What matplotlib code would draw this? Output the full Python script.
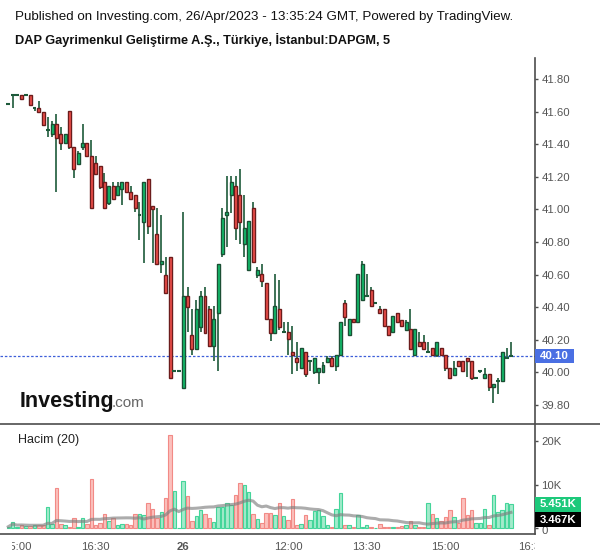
import numpy as np
import matplotlib.pyplot as plt
from matplotlib.patches import Rectangle
from matplotlib.transforms import Bbox, TransformedBbox

plt.rcParams['font.family'] = ['Liberation Sans', 'DejaVu Sans']

# 5 minute candles, DAPGM (open, high, low, close)
opens = [41.645, 41.70, 41.70, 41.70, 41.70, 41.70, 41.62, 41.62, 41.60, 41.49,
         41.46, 41.524, 41.46, 41.405, 41.604, 41.383, 41.28, 41.38, 41.407, 41.328,
         41.285, 41.266, 41.168, 41.04, 41.143, 41.086, 41.123, 41.168, 41.107, 41.088,
         40.966, 40.925, 41.187, 41.02, 40.85, 40.663, 40.60, 40.706, 40.006, 40.006,
         39.906, 40.469, 40.23, 40.146, 40.28, 40.469, 40.389, 40.164, 40.363, 40.725,
         40.964, 41.086, 41.143, 41.088, 40.786, 40.626, 41.007, 40.60, 40.602, 40.547,
         40.326, 40.244, 40.389, 40.246, 40.246, 40.123, 40.086, 40.025, 40.123, 40.068,
         40.004, 40.004, 40.004, 40.066, 40.086, 40.041, 40.105, 40.424, 40.227, 40.328,
         40.307, 40.442, 40.467, 40.503, 40.426, 40.387, 40.387, 40.283, 40.246, 40.363,
         40.323, 40.262, 40.266, 40.105, 40.185, 40.185, 40.123, 40.148, 40.105, 40.148,
         40.105, 40.025, 39.986, 40.068, 40.068, 40.086, 40.068, 39.966, 40.007, 39.964,
         39.988, 39.908, 39.945, 39.945, 40.086, 40.10]
highs = [41.645, 41.70, 41.70, 41.70, 41.70, 41.70, 41.62, 41.665, 41.60, 41.565,
         41.54, 41.585, 41.505, 41.46, 41.604, 41.383, 41.36, 41.524, 41.407, 41.426,
         41.33, 41.266, 41.223, 41.143, 41.168, 41.168, 41.168, 41.168, 41.142, 41.088,
         41.045, 41.17, 41.187, 41.007, 41.007, 40.966, 40.706, 40.706, 40.006, 40.006,
         40.982, 40.526, 40.389, 40.444, 40.50, 40.522, 40.407, 40.407, 40.663, 41.007,
         41.207, 41.207, 41.207, 41.248, 41.088, 40.927, 41.044, 40.65, 40.663, 40.547,
         40.326, 40.602, 40.567, 40.31, 40.31, 40.285, 40.186, 40.148, 40.123, 40.068,
         40.086, 40.025, 40.066, 40.10, 40.10, 40.105, 40.307, 40.444, 40.328, 40.328,
         40.604, 40.683, 40.604, 40.522, 40.426, 40.407, 40.387, 40.283, 40.344, 40.363,
         40.323, 40.32, 40.389, 40.266, 40.246, 40.23, 40.186, 40.148, 40.185, 40.148,
         40.105, 40.025, 40.07, 40.068, 40.068, 40.086, 40.068, 39.966, 40.007, 40.027,
         39.988, 39.927, 39.964, 40.123, 40.148, 40.185]
lows = [41.645, 41.624, 41.70, 41.68, 41.70, 41.64, 41.605, 41.60, 41.51, 41.446,
        41.446, 41.11, 41.366, 41.405, 41.37, 41.19, 41.28, 41.366, 41.326, 41.007,
        41.22, 41.127, 41.007, 41.03, 41.062, 41.086, 41.03, 41.105, 41.062, 40.986,
        40.81, 40.67, 40.85, 40.67, 40.663, 40.61, 40.485, 39.964, 40.006, 40.006,
        39.906, 40.25, 40.107, 40.146, 40.25, 40.244, 40.154, 40.072, 40.011, 40.71,
        40.77, 40.976, 40.81, 40.79, 40.71, 40.626, 40.68, 40.58, 40.526, 40.326,
        40.19, 40.244, 40.26, 40.246, 40.105, 39.992, 40.01, 40.025, 39.97, 40.01,
        39.992, 39.93, 40.004, 40.066, 40.041, 40.01, 40.105, 40.287, 40.227, 40.307,
        40.307, 40.442, 40.467, 40.405, 40.426, 40.363, 40.283, 40.227, 40.246, 40.307,
        40.283, 40.262, 40.146, 40.105, 40.154, 40.146, 40.123, 40.105, 40.092, 40.105,
        40.01, 39.964, 39.986, 40.041, 40.007, 39.97, 39.953, 39.966, 39.994, 39.964,
        39.888, 39.81, 39.87, 39.945, 40.086, 40.10]
closes = [41.645, 41.70, 41.70, 41.68, 41.70, 41.64, 41.62, 41.60, 41.52, 41.49,
          41.524, 41.44, 41.405, 41.46, 41.38, 41.246, 41.346, 41.407, 41.326, 41.007,
          41.22, 41.14, 41.007, 41.143, 41.062, 41.143, 41.168, 41.105, 41.062, 41.007,
          40.966, 41.166, 40.90, 41.00, 40.663, 40.683, 40.485, 39.964, 40.006, 40.006,
          40.469, 40.403, 40.143, 40.389, 40.469, 40.244, 40.164, 40.328, 40.663, 40.945,
          40.982, 41.166, 40.884, 40.925, 40.884, 40.927, 40.68, 40.626, 40.563, 40.326,
          40.244, 40.407, 40.28, 40.246, 40.203, 40.105, 40.066, 40.148, 39.99, 40.068,
          40.086, 40.025, 40.045, 40.086, 40.041, 40.105, 40.307, 40.342, 40.328, 40.307,
          40.604, 40.665, 40.467, 40.405, 40.426, 40.363, 40.283, 40.227, 40.344, 40.307,
          40.283, 40.307, 40.146, 40.266, 40.164, 40.146, 40.123, 40.105, 40.185, 40.105,
          40.025, 39.964, 40.025, 40.041, 40.007, 40.068, 39.964, 39.966, 40.007, 39.988,
          39.908, 39.927, 39.945, 40.123, 40.086, 40.10]
# volume, thousands of shares
volumes = [0.3, 1.47, 0.24, 0.78, 0.47, 0.47, 0.63, 0.63, 0.78, 4.94,
           0.86, 9.17, 1.0, 0.63, 0.24, 2.24, 0.31, 2.39, 0.86, 11.25,
           0.78, 1.24, 3.32, 1.62, 2.39, 0.78, 1.0, 1.0, 0.63, 3.32,
           3.32, 3.0, 5.71, 4.48, 2.39, 3.79, 6.85, 21.4, 8.48, 0.1,
           10.79, 7.47, 1.62, 2.78, 4.16, 3.32, 2.24, 1.47, 4.94, 4.94,
           5.86, 5.25, 7.70, 10.48, 9.86, 8.32, 3.16, 2.16, 1.24, 3.55,
           3.55, 2.93, 5.86, 2.85, 1.8, 6.62, 0.78, 1.0, 3.09, 1.86,
           3.94, 4.16, 2.78, 0.63, 0.31, 4.32, 8.0, 0.63, 0.63, 0.31,
           2.93, 0.31, 0.63, 0.31, 0.08, 1.0, 0.31, 0.31, 0.31, 0.31,
           0.47, 0.63, 1.55, 0.63, 0.31, 0.31, 5.71, 3.32, 2.32, 1.55,
           2.62, 4.08, 2.62, 1.08, 7.0, 3.09, 4.08, 1.08, 1.24, 4.48,
           0.78, 7.7, 3.7, 4.16, 5.86, 5.451]

tick_pos = [2, 20, 40, 64, 82, 100, 120]
tick_labels = ['15:00', '16:30', '26', '12:00', '13:30', '15:00', '16:30']
price_ticks = [39.80, 40.00, 40.20, 40.40, 40.60, 40.80, 41.00, 41.20, 41.40, 41.60, 41.80]
last_price = 40.10
last_volume = 5.451
volume_ma_label = '3.467K'

red = '#f4514c'
red_edge = '#6b1c1c'
green = '#12c26e'
green_edge = '#1b4f34'
wick = '#1d5a3a'
axis_col = '#4d4d4d'
text_col = '#555555'

W, H = 600, 558
n = len(closes)
x = np.arange(n)

fig = plt.figure(figsize=(6, 5.58), dpi=100)
ax = fig.add_axes([0, 1 - 423 / H, 535 / W, (423 - 58) / H])
axv = fig.add_axes([0, 1 - 534 / H, 535 / W, (534 - 424) / H])

for a in (ax, axv):
    for s in ('top', 'left', 'bottom'):
        a.spines[s].set_visible(False)
    a.spines['right'].set_color(axis_col)
    a.spines['right'].set_linewidth(1.2)
    a.set_xlim(-1.9, 120.5)
    a.yaxis.tick_right()
    a.tick_params(axis='y', colors=axis_col, labelcolor=text_col, labelsize=8.2,
                  length=2.5, width=1, pad=2)
axv.spines['bottom'].set_visible(True)
axv.spines['bottom'].set_color(axis_col)
axv.spines['bottom'].set_linewidth(1.2)

# candles
bw = 0.68
for i in range(n):
    o, h, l, c = opens[i], highs[i], lows[i], closes[i]
    ax.vlines(x[i], l, h, color=wick, linewidth=1.2, zorder=2)
    if abs(c - o) < 0.008:
        ax.hlines(o, x[i] - bw / 2 - 0.1, x[i] + bw / 2 + 0.1, color=wick, linewidth=1.5, zorder=3)
    else:
        fc, ec = (green, green_edge) if c > o else (red, red_edge)
        ax.add_patch(Rectangle((x[i] - bw / 2, min(o, c)), bw, abs(c - o),
                               facecolor=fc, edgecolor=ec, linewidth=1.0, zorder=3))

ax.set_ylim(39.690, 41.929)
ax.set_yticks(price_ticks)
ax.set_yticklabels(['%.2f' % p for p in price_ticks])
ax.set_xticks([])

# last price line and label
ax.axhline(last_price, color='#3d5fd9', linewidth=0.9, linestyle=(0, (2, 1.5)), zorder=1)
ppx = (ax.get_ylim()[1] - ax.get_ylim()[0]) / (423 - 58)   # price per pixel
ax.add_patch(Rectangle((1.0, last_price - 7 * ppx), 39 / 535, 14 * ppx,
                       transform=ax.get_yaxis_transform(), facecolor='#4a6fe3',
                       edgecolor='none', clip_on=False, zorder=5))
ax.text(1.0 + 19.5 / 535, last_price, '%.2f' % last_price, transform=ax.get_yaxis_transform(),
        color='white', fontsize=8.2, fontweight='bold', va='center', ha='center', zorder=6)

# volume panel
vcol = []
vedge = []
for i in range(n):
    if closes[i] >= opens[i]:
        vcol.append('#a3ebcb')
        vedge.append('#44d59a')
    else:
        vcol.append('#fbc0bd')
        vedge.append('#f28a86')
axv.bar(x, volumes, width=0.8, color=vcol, edgecolor=vedge, linewidth=0.8, zorder=2)
vol_ma = np.convolve(volumes, np.ones(20) / 20, mode='full')[:n]
counts = np.minimum(np.arange(1, n + 1), 20)
vol_ma = vol_ma * 20 / counts
axv.plot(x, vol_ma, color='#808080', linewidth=2.2, alpha=0.65, zorder=3)
axv.set_ylim(-1.39, 24.0)
axv.set_yticks([0, 10, 20])
axv.set_yticklabels(['', '10K', '20K'])
axv.set_xticks(tick_pos)
axv.set_xticklabels(tick_labels)
axv.tick_params(axis='x', colors=axis_col, labelcolor=text_col, labelsize=8.2, length=0, pad=6)
for lab, pos in zip(axv.get_xticklabels(), tick_pos):
    if lab.get_text() == '26':
        lab.set_fontweight('bold')
    # edge labels are cut off by the chart borders
    lab.set_clip_on(True)
    lab.set_clip_box(TransformedBbox(Bbox([[12 / W, 0], [535 / W, 1]]), fig.transFigure))

vpx = (axv.get_ylim()[1] - axv.get_ylim()[0]) / (534 - 424)   # volume per pixel
yt = axv.get_yaxis_transform()
# the zero label sits just under the moving average box
axv.text(1.0 + 7 / 535, -0.8, '0', transform=yt, color=text_col, fontsize=8.2,
         va='center', ha='left', clip_on=False)
axv.add_patch(Rectangle((1.0, last_volume - 7.5 * vpx), 46 / 535, 15 * vpx, transform=yt,
                        facecolor='#1dc97b', edgecolor='none', clip_on=False, zorder=5))
axv.text(1.0 + 23 / 535, last_volume, '%.3fK' % last_volume, transform=yt,
         color='white', fontsize=8.2, fontweight='bold', va='center', ha='center', zorder=6)
ma_y = 1.85
axv.add_patch(Rectangle((1.0, ma_y - 7.5 * vpx), 46 / 535, 15 * vpx, transform=yt,
                        facecolor='black', edgecolor='none', clip_on=False, zorder=5))
axv.text(1.0 + 23 / 535, ma_y, volume_ma_label, transform=yt,
         color='white', fontsize=8.2, fontweight='bold', va='center', ha='center', zorder=6)
axv.text(18 / 535, (534 - 440) / 110, 'Hacim (20)', transform=axv.transAxes,
         fontsize=9, color='#222222', va='center')

# separator line across the whole width
fig.add_artist(plt.Line2D([0, 1], [1 - 423.5 / H] * 2, color=axis_col, linewidth=1.2))

# header texts
fig.text(15 / W, 1 - 17 / H, 'Published on Investing.com, 26/Apr/2023 - 13:35:24 GMT, Powered by TradingView.',
         fontsize=9.6, color='#111111', va='center')
fig.text(15 / W, 1 - 40 / H, 'DAP Gayrimenkul Geliştirme A.Ş., Türkiye, İstanbul:DAPGM, 5',
         fontsize=9.15, fontweight='bold', color='#111111', va='center')

# logo
fig.text(20 / W, 1 - 401 / H, 'Investing', fontsize=15.5, fontweight='bold', color='#111111', va='center')
fig.text(112 / W, 1 - 403 / H, '.com', fontsize=11, color='#666666', va='center')

fig.savefig('out.png', dpi=100)
